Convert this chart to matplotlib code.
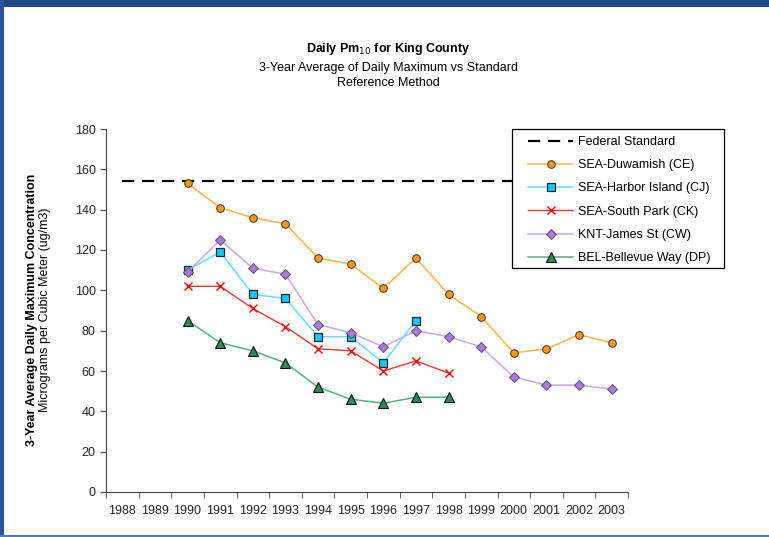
import numpy as np
import matplotlib.pyplot as plt
from matplotlib.patches import Rectangle

plt.rcParams['font.family'] = ['Liberation Sans', 'DejaVu Sans']

years = ['1988', '1989', '1990', '1991', '1992', '1993', '1994', '1995',
         '1996', '1997', '1998', '1999', '2000', '2001', '2002', '2003']

# values start at 1990 (index 2) unless noted
standard = [154] * 16
duwamish = [153, 141, 136, 133, 116, 113, 101, 116, 98, 87, 69, 71, 78, 74]
harbor = [110, 119, 98, 96, 77, 77, 64, 85]
south_park = [102, 102, 91, 82, 71, 70, 60, 65, 59]
james_st = [109, 125, 111, 108, 83, 79, 72, 80, 77, 72, 57, 53, 53, 51]
bellevue = [85, 74, 70, 64, 52, 46, 44, 47, 47]

W, H = 769, 537
fig = plt.figure(figsize=(W / 100, H / 100), dpi=100)

# slide frame
fig.patches.append(Rectangle((0, 1 - 7 / H), 1, 7 / H, transform=fig.transFigure,
                             facecolor='#1f4a86', edgecolor='none', zorder=0))
fig.patches.append(Rectangle((0, 0), 4 / W, 1, transform=fig.transFigure,
                             facecolor='#2a5596', edgecolor='none', zorder=0))
fig.patches.append(Rectangle((0, 0), 1, 2 / H, transform=fig.transFigure,
                             facecolor='#5a78b0', edgecolor='none', zorder=0))

ax = fig.add_axes([106 / W, 1 - 492 / H, 522 / W, 363 / H])

x = np.arange(len(years))
xs = 2  # first year with station data


def xr(vals):
    return x[xs:xs + len(vals)]


ax.plot(x, standard, color='black', lw=1.6, dashes=(5.5, 3.5),
        label='Federal Standard', zorder=2)
ax.plot(xr(duwamish), duwamish, color='#ffb347', lw=1.1, marker='o', ms=5.5,
        mfc='#ff9900', mec='#333333', mew=0.7, label='SEA-Duwamish (CE)', zorder=3)
ax.plot(xr(harbor), harbor, color='#66ddff', lw=1.1, marker='s', ms=6,
        mfc='#00ccff', mec='#222222', mew=0.9, label='SEA-Harbor Island (CJ)', zorder=3)
ax.plot(xr(south_park), south_park, color='#ff3333', lw=1.0, marker='x', ms=5.5,
        mec='#ff0000', mew=1.0, label='SEA-South Park (CK)', zorder=3)
ax.plot(xr(james_st), james_st, color='#c9a6f5', lw=1.1, marker='D', ms=5,
        mfc='#a97ae0', mec='#555555', mew=0.7, label='KNT-James St (CW)', zorder=3)
ax.plot(xr(bellevue), bellevue, color='#55b080', lw=1.1, marker='^', ms=6.5,
        mfc='#2e8b57', mec='#111111', mew=0.8, label='BEL-Bellevue Way (DP)', zorder=3)

ax.set_xlim(-0.5, len(years) - 0.5)
ax.set_ylim(0, 180)
ax.set_yticks(range(0, 181, 20))
ax.set_xticks(x)
ax.set_xticklabels(years)
ax.set_xticks(np.arange(-0.5, len(years)), minor=True)
ax.tick_params(axis='x', which='major', length=0, pad=9, labelsize=9, colors='#222222')
ax.tick_params(axis='x', which='minor', length=4, direction='out', color='#444444')
ax.tick_params(axis='y', length=4, direction='out', labelsize=9, colors='#222222',
               color='#444444')
for s in ['top', 'right']:
    ax.spines[s].set_visible(False)
for s in ['left', 'bottom']:
    ax.spines[s].set_color('#444444')

fig.text(0.505, 1 - 49 / H, 'Daily Pm$_{10}$ for King County', ha='center', va='center',
         fontsize=9, fontweight='bold')
fig.text(0.505, 1 - 68 / H, '3-Year Average of Daily Maximum vs Standard', ha='center',
         va='center', fontsize=9)
fig.text(0.505, 1 - 83 / H, 'Reference Method', ha='center', va='center', fontsize=9)

fig.text(32 / W, 1 - 310 / H, '3-Year Average Daily Maximum Concentration',
         rotation=90, ha='center', va='center', fontsize=9, fontweight='bold')
fig.text(45 / W, 1 - 310 / H, 'Micrograms per Cubic Meter (ug/m3)',
         rotation=90, ha='center', va='center', fontsize=9)

# legend box drawn by hand so it sits exactly where the original has it
box = Rectangle((512 / W, 1 - 268 / H), 212 / W, 139 / H, transform=fig.transFigure,
                facecolor='white', edgecolor='black', lw=0.9, clip_on=False, zorder=4)
ax.add_patch(box)
leg = ax.legend(loc='upper left', bbox_to_anchor=(528 / W, 1 - 136 / H),
                bbox_transform=fig.transFigure, fontsize=9, frameon=False,
                handlelength=3.6, labelspacing=0.9, borderpad=0, borderaxespad=0,
                handletextpad=0.4)
leg.set_zorder(5)

fig.savefig('out.png', dpi=100)
